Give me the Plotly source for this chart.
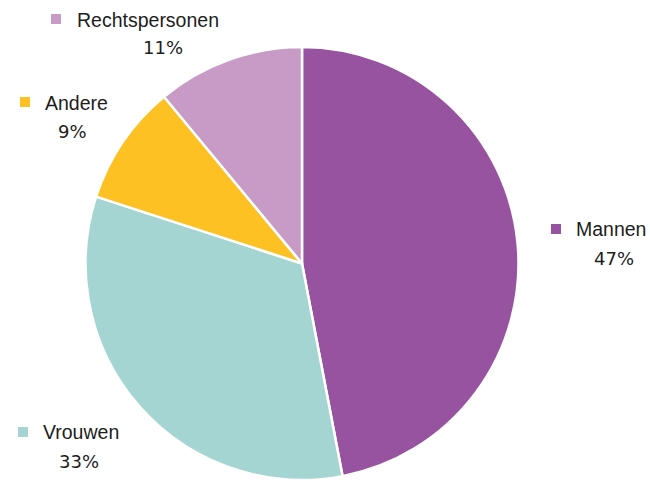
import plotly.graph_objects as go

# Ownership breakdown
categories = ["Mannen", "Vrouwen", "Andere", "Rechtspersonen"]
shares = [47, 33, 9, 11]
colors = ["#9752A0", "#A5D5D2", "#FEC123", "#C79BC5"]

W, H = 650, 480

# Label placement (pixel positions of marker square, label text start, percent centre)
label_pos = {
    "Mannen": dict(sq=(551, 229), txt=(574, 229), pct=(614, 258)),
    "Vrouwen": dict(sq=(18, 432), txt=(41, 432), pct=(79, 461)),
    "Andere": dict(sq=(20, 102), txt=(43, 103), pct=(72, 131)),
    "Rechtspersonen": dict(sq=(51, 19), txt=(75, 20), pct=(163, 48)),
}

def px(x):
    return x / W

def py(y):
    return 1 - y / H

fig = go.Figure(
    go.Pie(
        labels=categories,
        values=shares,
        sort=False,
        direction="clockwise",
        rotation=0,
        marker=dict(colors=colors, line=dict(color="white", width=2.5)),
        textinfo="none",
        hoverinfo="label+percent",
        showlegend=False,
        domain=dict(x=[0, 604 / W], y=[0, 433 / H]),
    )
)

label_font = dict(family="Liberation Sans, Arial, sans-serif", size=19.5, color="#1d1d1b")
pct_font = dict(family="DejaVu Sans, sans-serif", size=18, color="#1d1d1b")
shapes = []
annotations = []
for cat, val, col in zip(categories, shares, colors):
    p = label_pos[cat]
    sx, sy = p["sq"]
    shapes.append(dict(
        type="rect", xref="paper", yref="paper",
        x0=px(sx), x1=px(sx + 10), y0=py(sy + 5), y1=py(sy - 5),
        fillcolor=col, line=dict(width=0),
    ))
    tx, ty = p["txt"]
    annotations.append(dict(
        text=cat, x=px(tx), y=py(ty), xref="paper", yref="paper",
        xanchor="left", yanchor="middle", showarrow=False, font=label_font,
    ))
    cx, cy = p["pct"]
    annotations.append(dict(
        text=f"{val}%", x=px(cx), y=py(cy), xref="paper", yref="paper",
        xanchor="center", yanchor="middle", showarrow=False, font=pct_font,
    ))

fig.update_layout(
    width=W, height=H,
    margin=dict(l=0, r=0, t=0, b=0),
    paper_bgcolor="white",
    plot_bgcolor="white",
    shapes=shapes,
    annotations=annotations,
)

fig.write_html("out.html")
